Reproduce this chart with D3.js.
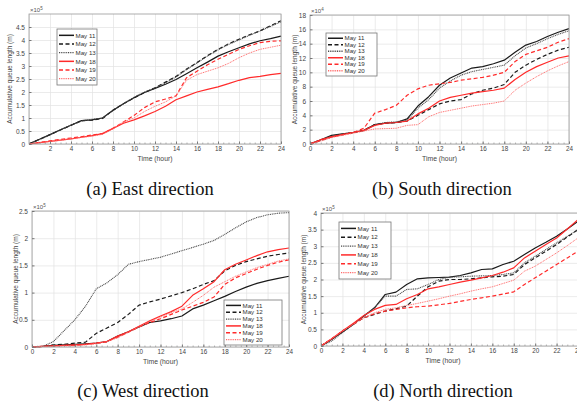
<!DOCTYPE html>
<html><head><meta charset="utf-8">
<script src="https://cdn.jsdelivr.net/npm/d3@7"></script>
<style>
html,body{margin:0;padding:0;background:#fff;}
svg{display:block;}
</style>
</head><body>
<svg id="chart" width="577" height="407"></svg>
<script>
// ---------- DATA ----------
const hours = [0,1,2,3,4,5,6,7,8,9,10,11,12,13,14,15,16,17,18,19,20,21,22,23,24];
const seriesNames = ["May 11","May 12","May 13","May 18","May 19","May 20"];
const xTickLabels = [0,2,4,6,8,10,12,14,16,18,20,22,24];

// (a) East, x10^5 m
const eastMay11 = [0,0.18,0.36,0.55,0.72,0.9,0.93,1.0,1.3,1.55,1.78,1.98,2.14,2.3,2.48,2.7,2.93,3.15,3.38,3.55,3.7,3.85,3.97,4.05,4.15];
const eastMay12 = [0,0.18,0.36,0.54,0.72,0.9,0.92,0.98,1.3,1.55,1.77,1.98,2.16,2.38,2.6,2.88,3.13,3.4,3.64,3.85,4.03,4.2,4.35,4.55,4.74];
const eastMay13 = [0,0.17,0.35,0.55,0.73,0.88,0.95,1.0,1.28,1.55,1.8,2.0,2.15,2.35,2.58,2.86,3.12,3.38,3.62,3.83,4.0,4.18,4.35,4.52,4.7];
const eastMay18 = [0,0.05,0.1,0.15,0.2,0.26,0.32,0.4,0.6,0.8,0.93,1.08,1.25,1.45,1.7,1.85,2.0,2.1,2.2,2.32,2.45,2.55,2.6,2.67,2.72];
const eastMay19 = [0,0.06,0.12,0.18,0.23,0.28,0.35,0.4,0.6,0.85,1.1,1.4,1.62,1.73,1.85,2.55,2.8,3.05,3.26,3.45,3.64,3.78,3.9,3.95,3.97];
const eastMay20 = [0,0.05,0.1,0.14,0.2,0.25,0.3,0.37,0.58,0.85,1.0,1.25,1.45,1.62,1.85,2.45,2.67,2.8,2.93,3.1,3.32,3.5,3.64,3.72,3.8];
const eastYTicks = [0,0.5,1,1.5,2,2.5,3,3.5,4,4.5];

// (b) South, x10^4 m
const southMay11 = [0,0.6,1.2,1.4,1.6,1.9,2.7,2.9,3.0,3.5,5.3,6.6,8.2,9.2,9.9,10.6,10.8,11.2,11.7,12.8,13.8,14.3,15.0,15.6,16.1];
const southMay12 = [0,0.5,1.0,1.3,1.6,1.9,2.7,2.9,3.0,3.2,4.0,4.8,5.6,6.0,6.2,7.0,7.5,7.8,8.3,10.0,11.0,11.8,12.5,13.1,13.5];
const southMay13 = [0,0.6,1.1,1.4,1.6,1.9,2.7,3.0,3.1,3.3,5.0,6.2,7.8,8.8,9.6,10.1,10.4,10.7,11.0,12.3,13.4,14.0,14.7,15.3,15.8];
const southMay18 = [0,0.6,1.0,1.3,1.6,1.9,2.6,2.9,3.0,3.2,4.2,5.0,6.0,6.5,6.8,7.1,7.3,7.5,7.8,9.0,10.0,10.8,11.4,12.0,12.3];
const southMay19 = [0,0.5,1.0,1.3,1.6,2.2,4.3,4.8,5.4,6.8,7.7,8.2,8.4,8.6,8.9,9.1,9.3,9.6,10.0,11.5,12.5,13.0,13.5,14.2,14.7];
const southMay20 = [0,0.4,0.9,1.2,1.5,1.8,2.1,2.15,2.2,2.6,2.7,3.8,4.4,4.7,5.0,5.3,5.5,5.7,6.0,7.5,8.5,9.4,10.2,10.9,11.5];
const southYTicks = [0,2,4,6,8,10,12,14,16,18];

// (c) West, x10^5 m
const westMay11 = [0,0.01,0.03,0.04,0.05,0.06,0.07,0.1,0.2,0.28,0.37,0.45,0.48,0.52,0.57,0.7,0.77,0.85,0.93,1.02,1.1,1.17,1.22,1.26,1.3];
const westMay12 = [0,0.01,0.04,0.05,0.07,0.09,0.25,0.35,0.45,0.6,0.77,0.83,0.88,0.94,1.0,1.07,1.15,1.22,1.4,1.5,1.57,1.62,1.67,1.7,1.73];
const westMay13 = [0,0.01,0.1,0.3,0.5,0.75,1.07,1.18,1.33,1.52,1.57,1.61,1.65,1.71,1.77,1.83,1.89,1.96,2.07,2.19,2.3,2.38,2.43,2.46,2.47];
const westMay18 = [0,0.01,0.02,0.03,0.04,0.05,0.07,0.1,0.2,0.28,0.38,0.48,0.57,0.65,0.75,0.95,1.07,1.2,1.42,1.52,1.6,1.68,1.75,1.79,1.82];
const westMay19 = [0,0.01,0.02,0.03,0.03,0.05,0.07,0.1,0.18,0.27,0.37,0.45,0.52,0.6,0.68,0.75,0.82,0.92,1.15,1.27,1.35,1.43,1.5,1.56,1.6];
const westMay20 = [0,0.01,0.01,0.02,0.02,0.04,0.06,0.1,0.17,0.27,0.37,0.47,0.55,0.63,0.7,0.82,0.95,1.1,1.2,1.3,1.38,1.46,1.52,1.58,1.62];
const westYTicks = [0,0.5,1,1.5,2,2.5];

// (d) North, x10^5 m
const northMay11 = [0,0.2,0.42,0.65,0.9,1.15,1.55,1.62,1.85,2.02,2.05,2.06,2.07,2.12,2.2,2.3,2.32,2.45,2.55,2.75,2.95,3.12,3.3,3.52,3.75];
const northMay12 = [0,0.2,0.45,0.65,0.85,0.95,1.05,1.12,1.2,1.5,1.78,1.95,2.0,2.0,2.02,2.05,2.08,2.1,2.15,2.45,2.65,2.85,3.05,3.28,3.5];
const northMay13 = [0,0.15,0.4,0.65,0.9,1.15,1.5,1.5,1.7,1.72,1.85,2.0,2.07,2.08,2.1,2.11,2.12,2.15,2.2,2.5,2.7,2.9,3.1,3.3,3.5];
const northMay18 = [0,0.22,0.45,0.68,0.92,1.1,1.22,1.25,1.42,1.55,1.72,1.78,1.85,1.92,1.98,2.05,2.12,2.22,2.35,2.65,2.85,3.05,3.25,3.52,3.8];
const northMay19 = [0,0.22,0.45,0.65,0.85,0.97,1.05,1.1,1.15,1.18,1.2,1.24,1.28,1.34,1.4,1.45,1.5,1.56,1.63,1.85,2.05,2.25,2.45,2.65,2.85];
const northMay20 = [0,0.22,0.45,0.65,0.85,1.0,1.1,1.15,1.22,1.28,1.35,1.42,1.5,1.57,1.65,1.72,1.78,1.88,1.98,2.25,2.4,2.6,2.8,3.02,3.25];
const northYTicks = [0,0.5,1,1.5,2,2.5,3,3.5,4];

// ---------- STYLES ----------
const styles = [
  {color:"#1a1a1a", dash:null, w:1.2},
  {color:"#1a1a1a", dash:"4,2.5", w:1.2},
  {color:"#4a4a4a", dash:"1,0.8", w:1.1},
  {color:"#ff2a2a", dash:null, w:1.2},
  {color:"#ff2a2a", dash:"4,2.5", w:1.2},
  {color:"#ff6a6a", dash:"1,0.8", w:1.0}
];

const panels = [
  {id:"a", series:[eastMay11,eastMay12,eastMay13,eastMay18,eastMay19,eastMay20], yMax:5, yTicks:eastYTicks, exp:"5",
   x0:29, x1:281, y0:14, y1:144, showX0:false, caption:"(a) East direction", capX:150, capY:195,
   legend:{x:57, y:29, w:40, h:56}, ylabX:9},
  {id:"b", series:[southMay11,southMay12,southMay13,southMay18,southMay19,southMay20], yMax:18, yTicks:southYTicks, exp:"4",
   x0:310, x1:569, y0:15, y1:144, showX0:true, caption:"(b) South direction", capX:442, capY:195,
   legend:{x:326, y:33, w:51, h:43}, ylabX:294},
  {id:"c", series:[westMay11,westMay12,westMay13,westMay18,westMay19,westMay20], yMax:2.5, yTicks:westYTicks, exp:"5",
   x0:32, x1:289, y0:211, y1:347, showX0:true, caption:"(c) West direction", capX:143, capY:397,
   legend:{x:224, y:300, w:58, h:45}, ylabX:15},
  {id:"d", series:[northMay11,northMay12,northMay13,northMay18,northMay19,northMay20], yMax:4, yTicks:northYTicks, exp:"5",
   x0:321, x1:578, y0:213, y1:346, showX0:true, caption:"(d) North direction", capX:443, capY:397,
   legend:{x:339, y:222, w:52, h:57}, ylabX:303}
];

const svg = d3.select("#chart");
const sans = "'Liberation Sans', Arial, sans-serif";

panels.forEach(p => {
  const x = d3.scaleLinear().domain([0,24]).range([p.x0,p.x1]);
  const y = d3.scaleLinear().domain([0,p.yMax]).range([p.y1,p.y0]);
  const g = svg.append("g");

  g.append("rect").attr("x",p.x0).attr("y",p.y0).attr("width",p.x1-p.x0).attr("height",p.y1-p.y0).attr("fill","#fff");

  // grid
  const gx = g.append("g").attr("transform",`translate(0,${p.y1})`)
    .call(d3.axisBottom(x).tickValues(xTickLabels).tickSize(-(p.y1-p.y0)).tickFormat(""));
  gx.select(".domain").remove();
  gx.selectAll("line").attr("stroke","#e3e3e3").attr("stroke-width",0.7);
  const gy = g.append("g").attr("transform",`translate(${p.x0},0)`)
    .call(d3.axisLeft(y).tickValues(p.yTicks).tickSize(-(p.x1-p.x0)).tickFormat(""));
  gy.select(".domain").remove();
  gy.selectAll("line").attr("stroke","#e3e3e3").attr("stroke-width",0.7);

  const clipId = "clip-"+p.id;
  svg.append("clipPath").attr("id",clipId).append("rect")
    .attr("x",p.x0).attr("y",p.y0-2).attr("width",p.x1-p.x0+2).attr("height",p.y1-p.y0+4);

  const line = d3.line().x((d,i)=>x(hours[i])).y(d=>y(d));
  const lg = g.append("g").attr("clip-path",`url(#${clipId})`);
  p.series.forEach((vals,k) => {
    const s = styles[k];
    lg.append("path").datum(vals).attr("d",line).attr("fill","none")
      .attr("stroke",s.color).attr("stroke-width",s.w)
      .attr("stroke-dasharray",s.dash).attr("stroke-linejoin","round");
  });

  g.append("rect").attr("x",p.x0).attr("y",p.y0).attr("width",p.x1-p.x0).attr("height",p.y1-p.y0)
    .attr("fill","none").attr("stroke","#9a9a9a").attr("stroke-width",0.8);

  const ax = g.append("g").attr("transform",`translate(0,${p.y1})`)
    .call(d3.axisBottom(x).tickValues(xTickLabels.filter(v=>p.showX0||v!==0)).tickSize(-2.5).tickPadding(3).tickFormat(d3.format("d")));
  ax.select(".domain").remove();
  ax.selectAll("line").attr("stroke","#777");
  ax.selectAll("text").attr("font-family",sans).attr("font-size",6.3).attr("fill","#444");
  const axm = g.append("g").attr("transform",`translate(0,${p.y1})`)
    .call(d3.axisBottom(x).tickValues(d3.range(0,24.01,0.5)).tickSize(-1.5).tickFormat(""));
  axm.select(".domain").remove();
  axm.selectAll("line").attr("stroke","#888").attr("stroke-width",0.6);

  const ay = g.append("g").attr("transform",`translate(${p.x0},0)`)
    .call(d3.axisLeft(y).tickValues(p.yTicks).tickSize(-2.5).tickPadding(4).tickFormat(d=>String(d)));
  ay.select(".domain").remove();
  ay.selectAll("line").attr("stroke","#777");
  ay.selectAll("text").attr("font-family",sans).attr("font-size",6.5).attr("fill","#444");

  const ex = g.append("text").attr("x",p.x0+1).attr("y",p.y0-2)
    .attr("font-family",sans).attr("font-size",6).attr("fill","#555");
  ex.append("tspan").text("\u00d710");
  ex.append("tspan").attr("dy",-2.5).attr("font-size",4.5).text(p.exp);

  g.append("text").attr("x",(p.x0+Math.min(p.x1,577))/2 + (p.id==="d"?-6:0)).attr("y",p.y1+17)
    .attr("text-anchor","middle").attr("font-family",sans).attr("font-size",6.8).attr("fill","#444")
    .text("Time (hour)");
  g.append("text").attr("transform",`translate(${p.ylabX+2.5},${(p.y0+p.y1)/2}) rotate(-90)`)
    .attr("text-anchor","middle").attr("font-family",sans).attr("font-size",6.5).attr("fill","#444")
    .text("Accumulative queue length (m)");

  const L = p.legend;
  const leg = g.append("g");
  leg.append("rect").attr("x",L.x).attr("y",L.y).attr("width",L.w).attr("height",L.h)
    .attr("fill","#fff").attr("stroke","#777").attr("stroke-width",0.8);
  const rowH = (L.h-4)/6;
  seriesNames.forEach((name,k) => {
    const s = styles[k];
    const cy = L.y + 2 + rowH*(k+0.5);
    leg.append("line").attr("x1",L.x+2).attr("x2",L.x+17).attr("y1",cy).attr("y2",cy)
      .attr("stroke",s.color).attr("stroke-width",s.w+0.3).attr("stroke-dasharray",s.dash);
    leg.append("text").attr("x",L.x+18.5).attr("y",cy+2.2)
      .attr("font-family",sans).attr("font-size",6.2).attr("fill","#333").text(name);
  });

  svg.append("text").attr("x",p.capX).attr("y",p.capY).attr("text-anchor","middle")
    .attr("font-family","'Liberation Serif','Times New Roman',serif").attr("font-size",18.5).attr("fill","#111")
    .text(p.caption);
});
</script>
</body></html>
